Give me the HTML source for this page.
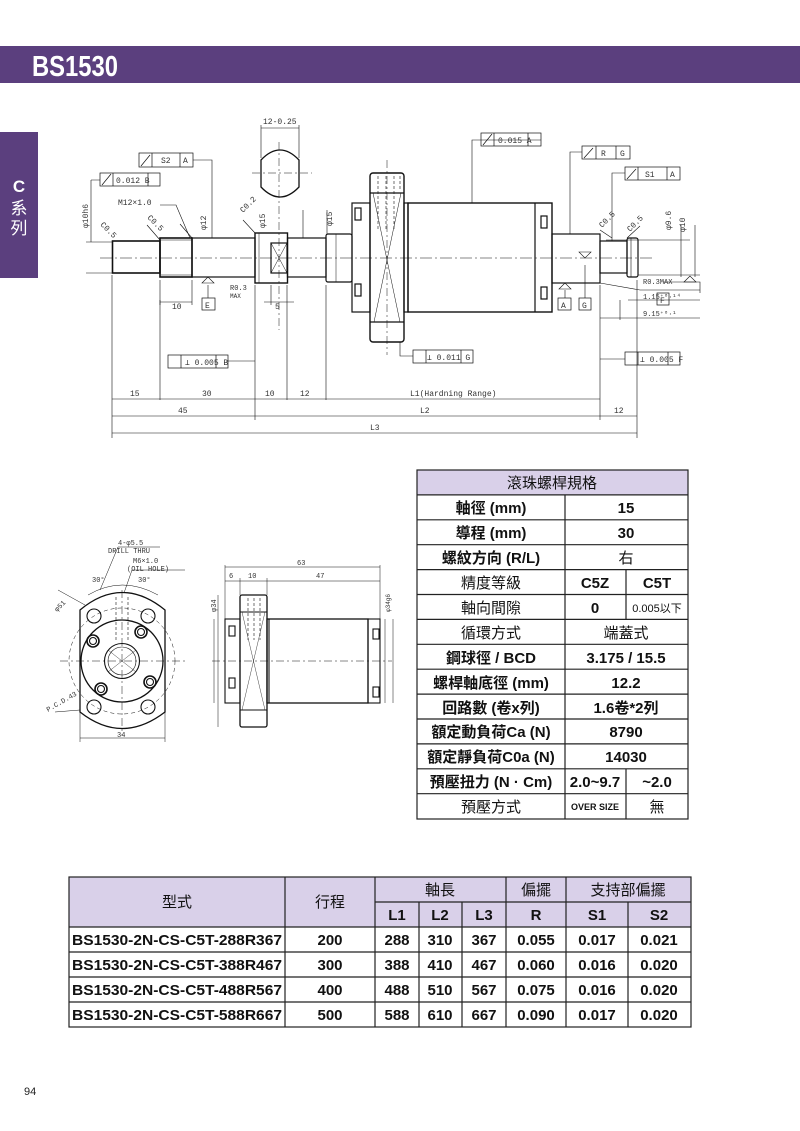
<!DOCTYPE html>
<html><head><meta charset="utf-8"><style>
html,body{margin:0;padding:0;background:#fff}
svg{display:block}
.t{font-family:"Liberation Sans","Noto Sans CJK TC",sans-serif;font-weight:bold;fill:#111}
.m{font-family:"Liberation Mono","DejaVu Sans Mono",monospace;fill:#333;font-size:8px}
</style></head><body>
<svg width="800" height="1131" viewBox="0 0 800 1131" xmlns="http://www.w3.org/2000/svg">
<rect x="0" y="46" width="800" height="37" fill="#5b3f7e"/>
<text x="32" y="76" font-family="Liberation Sans,sans-serif" font-weight="bold" font-size="29" fill="#fff" textLength="86" lengthAdjust="spacingAndGlyphs">BS1530</text>
<rect x="0" y="132" width="38" height="146" fill="#5b3f7e"/>
<text x="19" y="192" text-anchor="middle" font-family="Liberation Sans,sans-serif" font-weight="bold" font-size="17" fill="#fff">C</text>
<text x="19" y="214" text-anchor="middle" font-family="Noto Sans CJK TC,sans-serif" font-size="17" fill="#fff">系</text>
<text x="19" y="234" text-anchor="middle" font-family="Noto Sans CJK TC,sans-serif" font-size="17" fill="#fff">列</text>

<g stroke="#111" fill="none" stroke-width="1.2">
 <line x1="100" y1="258" x2="652" y2="258" stroke-width="0.6" stroke-dasharray="12,3,2,3"/>
 <rect x="112.5" y="241" width="47.5" height="32" stroke-width="1.6"/>
 <rect x="160" y="238" width="32" height="39" stroke-width="1.6"/>
 <line x1="160" y1="240" x2="192" y2="240" stroke-width="0.6"/>
 <line x1="160" y1="275" x2="192" y2="275" stroke-width="0.6"/>
 <rect x="192" y="238" width="63" height="39"/>
 <rect x="255" y="233" width="32.5" height="50" stroke-width="1.4"/>
 <line x1="259" y1="233" x2="259" y2="283" stroke-width="0.5"/>
 <rect x="271" y="243" width="16" height="30"/>
 <path d="M271 243L287 273M287 243L271 273" stroke-width="0.5"/>
 <rect x="287.5" y="238" width="38.5" height="39"/>
 <rect x="326" y="234" width="26" height="48" rx="2"/>
 <line x1="336" y1="234" x2="336" y2="282" stroke-width="0.5"/>
 <rect x="352" y="203" width="18" height="109"/>
 <rect x="355" y="208" width="6" height="12"/><rect x="355" y="284" width="6" height="12"/>
 <rect x="370" y="173" width="34" height="169" rx="3" stroke-width="1.4"/>
 <line x1="370" y1="193" x2="404" y2="193"/><line x1="370" y1="322" x2="404" y2="322"/>
 <path d="M373 193L400 322M401 193L374 322" stroke-width="0.5"/>
 <path d="M378 176V230M386 176V230M394 176V230M400 176V190" stroke-width="0.6" stroke-dasharray="3,2"/>
 <rect x="404" y="203" width="4" height="109"/>
 <rect x="408" y="203" width="144" height="109" stroke-width="1.4"/>
 <line x1="535" y1="203" x2="535" y2="312"/>
 <rect x="541" y="216" width="6" height="12"/><rect x="541" y="287" width="6" height="12"/>
 <rect x="552" y="234" width="48" height="49"/>
 <rect x="600" y="241" width="27" height="32"/>
 <rect x="627" y="238" width="11" height="39" rx="2"/>
 <line x1="631" y1="238" x2="631" y2="277" stroke-width="0.6"/>
 <path d="M261 160Q280 140 299 160V187Q280 207 261 187Z" stroke-width="1.3"/>
 <line x1="252" y1="173" x2="312" y2="173" stroke-width="0.5" stroke-dasharray="8,3,2,3"/>
 <line x1="279" y1="142" x2="279" y2="330" stroke-width="0.5" stroke-dasharray="8,3,2,3"/>
 <line x1="387" y1="160" x2="387" y2="355" stroke-width="0.5" stroke-dasharray="8,3,2,3"/>
 <path d="M261 125V158M299 125V158M261 128H299" stroke-width="0.6"/>
 <g stroke-width="0.6">
  <path d="M112 275V438M160 280V400M255 285V420M287 285V400M326 285V400M600 285V420M637 280V438"/>
  <path d="M112 399H326M326 399H600M112 416H600M600 416H637M112 433H637"/>
  <path d="M160 300V305M192 280V305M160 302H192M271 285V305M287 302H271M264 302H294"/>
  <path d="M91 180V242M86 242H112M86 273H112M100 180H91"/>
  <path d="M193 160H212V238M160 240L147 225M192 238L180 224M255 233L243 220M612 238L600 230M627 238L640 226"/>
  <path d="M541 140H472V203M582 152H570V234M625 173H612V241"/>
  <path d="M228 361H255M413 356H400V342M625 359H600"/>
  <path d="M303 210V238M327 210V234"/>
  <path d="M208 277L202 283H214Z M565 283L559 289H571Z M585 258L579 252H591Z M690 276L684 282H696Z"/>
  <path d="M208 285V298M565 290V298M585 265V298M663 282H700V293"/>
  <path d="M160 205H176L190 238"/>
  <path d="M638 275H700M600 283L640 290H700M620 300V320M628 300H700M600 318H700"/>
  <path d="M681 225V277M695 225V277M606 240H690"/>
 </g>
 <g stroke-width="0.7">
  <rect x="100" y="173" width="60" height="13"/><path d="M113 173V186M148 173V186M102 185L111 174"/>
  <rect x="139" y="153" width="54" height="14"/><path d="M152 153V167M180 153V167M141 166L150 155"/>
  <rect x="481" y="133" width="60" height="13"/><path d="M494 133V146M528 133V146M483 145L492 134"/>
  <rect x="582" y="146" width="48" height="13"/><path d="M596 146V159M616 146V159M584 158L593 148"/>
  <rect x="625" y="167" width="55" height="13"/><path d="M638 167V180M667 167V180M627 179L636 169"/>
  <rect x="168" y="355" width="60" height="13"/><path d="M181 355V368M216 355V368"/>
  <rect x="413" y="350" width="60" height="13"/><path d="M426 350V363M461 350V363"/>
  <rect x="625" y="352" width="55" height="13"/><path d="M638 352V365M668 352V365"/>
  <rect x="202" y="298" width="13" height="12"/>
  <rect x="558" y="298" width="13" height="12"/><rect x="579" y="298" width="12" height="12"/>
  <rect x="657" y="293" width="12" height="12"/>
 </g>
</g>
<g class="m">
 <text x="263" y="124">12-0.25</text>
 <text x="116" y="183">0.012 B</text>
 <text x="161" y="163">S2</text><text x="183" y="163">A</text>
 <text x="498" y="143">0.015 A</text>
 <text x="601" y="156">R</text><text x="620" y="156">G</text>
 <text x="645" y="177">S1</text><text x="670" y="177">A</text>
 <text x="118" y="205">M12×1.0</text>
 <text x="185" y="365">⊥ 0.005 B</text><text x="427" y="360">⊥ 0.011 G</text><text x="640" y="362">⊥ 0.005 F</text>
 <text x="205" y="308">E</text><text x="561" y="308">A</text><text x="582" y="308">G</text><text x="660" y="303">F</text>
 <text x="230" y="290" font-size="7">R0.3</text><text x="230" y="298" font-size="6">MAX</text>
 <text x="643" y="284" font-size="7">R0.3MAX</text>
 <text x="643" y="299" font-size="7">1.15⁺⁰·¹⁴</text><text x="643" y="316" font-size="7">9.15⁺⁰·¹</text>
 <text x="172" y="309">10</text><text x="275" y="309">5</text>
 <text x="130" y="396">15</text><text x="202" y="396">30</text><text x="265" y="396">10</text><text x="300" y="396">12</text>
 <text x="410" y="396">L1(Hardning Range)</text>
 <text x="178" y="413">45</text><text x="420" y="413">L2</text><text x="614" y="413">12</text>
 <text x="370" y="430">L3</text>
 <text transform="translate(88,228) rotate(-90)">φ10h6</text>
 <text transform="translate(206,230) rotate(-90)">φ12</text>
 <text transform="translate(265,228) rotate(-90)">φ15</text>
 <text transform="translate(332,226) rotate(-90)">φ15</text>
 <text transform="translate(671,230) rotate(-90)">φ9.6</text>
 <text transform="translate(685,232) rotate(-90)">φ10</text>
 <text transform="translate(100,225) rotate(45)">C0.5</text><text transform="translate(147,218) rotate(45)">C0.5</text>
 <text transform="translate(243,213) rotate(-45)">C0.2</text><text transform="translate(602,228) rotate(-45)">C0.5</text>
 <text transform="translate(630,232) rotate(-45)">C0.5</text>
</g>

<g stroke="#111" fill="none" stroke-width="1.1">
 <path d="M80 610Q122 575 165 610V712Q122 745 80 712Z" stroke-width="1.3"/>
 <circle cx="122" cy="661" r="41" stroke-width="1.3"/>
 <circle cx="122" cy="661" r="53" stroke-width="0.5" stroke-dasharray="4,3"/>
 <circle cx="122" cy="661" r="17.5"/><circle cx="122" cy="661" r="14" stroke-width="0.6"/>
 <path d="M108 650L136 672M136 650L108 672" stroke-width="0.4"/>
 <circle cx="94" cy="616" r="7"/><circle cx="148" cy="616" r="7"/><circle cx="94" cy="707" r="7"/><circle cx="148" cy="707" r="7"/>
 <circle cx="93" cy="641" r="6" stroke-width="1.6"/><circle cx="141" cy="632" r="6" stroke-width="1.6"/><circle cx="150" cy="682" r="6" stroke-width="1.6"/><circle cx="101" cy="689" r="6" stroke-width="1.6"/>
 <circle cx="93" cy="641" r="3.5"/><circle cx="141" cy="632" r="3.5"/><circle cx="150" cy="682" r="3.5"/><circle cx="101" cy="689" r="3.5"/>
 <path d="M116 597V642M128 597V642" stroke-width="0.6" stroke-dasharray="3,2"/>
 <path d="M60 661H185M122 590V735" stroke-width="0.5" stroke-dasharray="8,3,2,3"/>
 <path d="M80 712V742M165 712V742M80 738H165M100 590L118 547H160M124 593L132 570H185M85 605L58 590M80 710L55 712" stroke-width="0.5"/>
 <path d="M88 595Q122 575 158 595" stroke-width="0.5"/>
 <rect x="225" y="619" width="15" height="84"/>
 <rect x="229" y="626" width="6" height="10"/><rect x="229" y="678" width="6" height="10"/>
 <rect x="240" y="595" width="27" height="132" rx="2" stroke-width="1.3"/>
 <line x1="240" y1="612" x2="267" y2="612"/><line x1="240" y1="710" x2="267" y2="710"/>
 <path d="M242 612L265 710M265 612L242 710" stroke-width="0.4"/>
 <path d="M248 598V640M254 598V640M260 598V640" stroke-width="0.6" stroke-dasharray="3,2"/>
 <rect x="267" y="619" width="101" height="84" stroke-width="1.3"/>
 <line x1="269" y1="619" x2="269" y2="703"/>
 <rect x="368" y="619" width="12" height="84"/>
 <rect x="373" y="629" width="6" height="10"/><rect x="373" y="687" width="6" height="10"/>
 <path d="M212 661H392" stroke-width="0.5" stroke-dasharray="8,3,2,3"/>
 <path d="M225 565V619M380 565V619M225 567H380M240 578V595M267 578V595M225 581H380M218 595V727M214 619V703M385 619V703M393 619V703" stroke-width="0.5"/>
</g>
<g class="m" font-size="7">
 <text x="118" y="545" font-size="7">4-φ5.5</text>
 <text x="108" y="553" font-size="7">DRILL THRU</text>
 <text x="133" y="563" font-size="7">M6×1.0</text>
 <text x="127" y="571" font-size="7">(OIL HOLE)</text>
 <text x="92" y="582" font-size="7">30°</text><text x="138" y="582" font-size="7">30°</text>
 <text x="117" y="737" font-size="7">34</text>
 <text transform="translate(57,612) rotate(-45)" font-size="7">φ51</text>
 <text transform="translate(48,712) rotate(-30)" font-size="7">P.C.D.43</text>
 <text x="297" y="565" font-size="7">63</text>
 <text x="229" y="578" font-size="7">6</text><text x="248" y="578" font-size="7">10</text><text x="316" y="578" font-size="7">47</text>
 <text transform="translate(216,612) rotate(-90)" font-size="7">φ34</text>
 <text transform="translate(390,612) rotate(-90)" font-size="6">φ34g6</text>
</g>

<g>
 <rect x="417" y="470" width="271" height="24.9" fill="#d9d0e9"/>
 <g stroke="#222" stroke-width="1.2" fill="none">
  <rect x="417" y="470" width="271" height="349"/>
  <path d="M417 494.9H688M417 519.8H688M417 544.7H688M417 569.6H688M417 594.5H688M417 619.4H688M417 644.3H688M417 669.2H688M417 694.1H688M417 719H688M417 743.9H688M417 768.8H688M417 793.7H688"/>
  <path d="M565 494.9V819M626 569.6V619.4M626 768.8V819"/>
 </g>
 <g class="t" font-size="15" text-anchor="middle">
  <text x="552" y="488" font-weight="normal">滾珠螺桿規格</text>
  <text x="491" y="513">軸徑 (mm)</text><text x="626" y="513">15</text>
  <text x="491" y="538">導程 (mm)</text><text x="626" y="538">30</text>
  <text x="491" y="563">螺紋方向 (R/L)</text><text x="626" y="563" font-weight="normal">右</text>
  <text x="491" y="588" font-weight="normal">精度等級</text><text x="595" y="588">C5Z</text><text x="657" y="588">C5T</text>
  <text x="491" y="613" font-weight="normal">軸向間隙</text><text x="595" y="613">0</text><text x="657" y="612" font-size="11" font-weight="normal">0.005以下</text>
  <text x="491" y="638" font-weight="normal">循環方式</text><text x="626" y="638" font-weight="normal">端蓋式</text>
  <text x="491" y="663">鋼球徑 / BCD</text><text x="626" y="663">3.175 / 15.5</text>
  <text x="491" y="688">螺桿軸底徑 (mm)</text><text x="626" y="688">12.2</text>
  <text x="491" y="713">回路數 (卷x列)</text><text x="626" y="713">1.6卷*2列</text>
  <text x="491" y="737">額定動負荷Ca  (N)</text><text x="626" y="737">8790</text>
  <text x="491" y="762">額定靜負荷C0a  (N)</text><text x="626" y="762">14030</text>
  <text x="491" y="787">預壓扭力  (N · Cm)</text><text x="595" y="787">2.0~9.7</text><text x="657" y="787">~2.0</text>
  <text x="491" y="812" font-weight="normal">預壓方式</text><text x="595" y="810" font-size="9">OVER SIZE</text><text x="657" y="812" font-weight="normal">無</text>
 </g>
</g>

<g>
 <rect x="69" y="877" width="622" height="50" fill="#d9d0e9"/>
 <g stroke="#222" stroke-width="1.2" fill="none">
  <rect x="69" y="877" width="622" height="150"/>
  <path d="M375 902H691M69 927H691M69 952H691M69 977H691M69 1002H691"/>
  <path d="M285 877V1027M375 877V1027M506 877V1027M566 877V1027M419 902V1027M462 902V1027M628 902V1027"/>
 </g>
 <g class="t" font-size="15" text-anchor="middle">
  <text x="177" y="907" font-weight="normal">型式</text><text x="330" y="907" font-weight="normal">行程</text>
  <text x="440" y="895" font-weight="normal">軸長</text><text x="536" y="895" font-weight="normal">偏擺</text><text x="628" y="895" font-weight="normal">支持部偏擺</text>
  <text x="397" y="920">L1</text><text x="440" y="920">L2</text><text x="484" y="920">L3</text>
  <text x="536" y="920">R</text><text x="597" y="920">S1</text><text x="659" y="920">S2</text>
  <text x="177" y="945" textLength="210" lengthAdjust="spacingAndGlyphs">BS1530-2N-CS-C5T-288R367</text><text x="330" y="945">200</text><text x="397" y="945">288</text><text x="440" y="945">310</text><text x="484" y="945">367</text><text x="536" y="945">0.055</text><text x="597" y="945">0.017</text><text x="659" y="945">0.021</text>
  <text x="177" y="970" textLength="210" lengthAdjust="spacingAndGlyphs">BS1530-2N-CS-C5T-388R467</text><text x="330" y="970">300</text><text x="397" y="970">388</text><text x="440" y="970">410</text><text x="484" y="970">467</text><text x="536" y="970">0.060</text><text x="597" y="970">0.016</text><text x="659" y="970">0.020</text>
  <text x="177" y="995" textLength="210" lengthAdjust="spacingAndGlyphs">BS1530-2N-CS-C5T-488R567</text><text x="330" y="995">400</text><text x="397" y="995">488</text><text x="440" y="995">510</text><text x="484" y="995">567</text><text x="536" y="995">0.075</text><text x="597" y="995">0.016</text><text x="659" y="995">0.020</text>
  <text x="177" y="1020" textLength="210" lengthAdjust="spacingAndGlyphs">BS1530-2N-CS-C5T-588R667</text><text x="330" y="1020">500</text><text x="397" y="1020">588</text><text x="440" y="1020">610</text><text x="484" y="1020">667</text><text x="536" y="1020">0.090</text><text x="597" y="1020">0.017</text><text x="659" y="1020">0.020</text>
 </g>
</g>
<text x="24" y="1095" font-family="Liberation Sans,sans-serif" font-size="11" fill="#222">94</text>
</svg>
</body></html>
